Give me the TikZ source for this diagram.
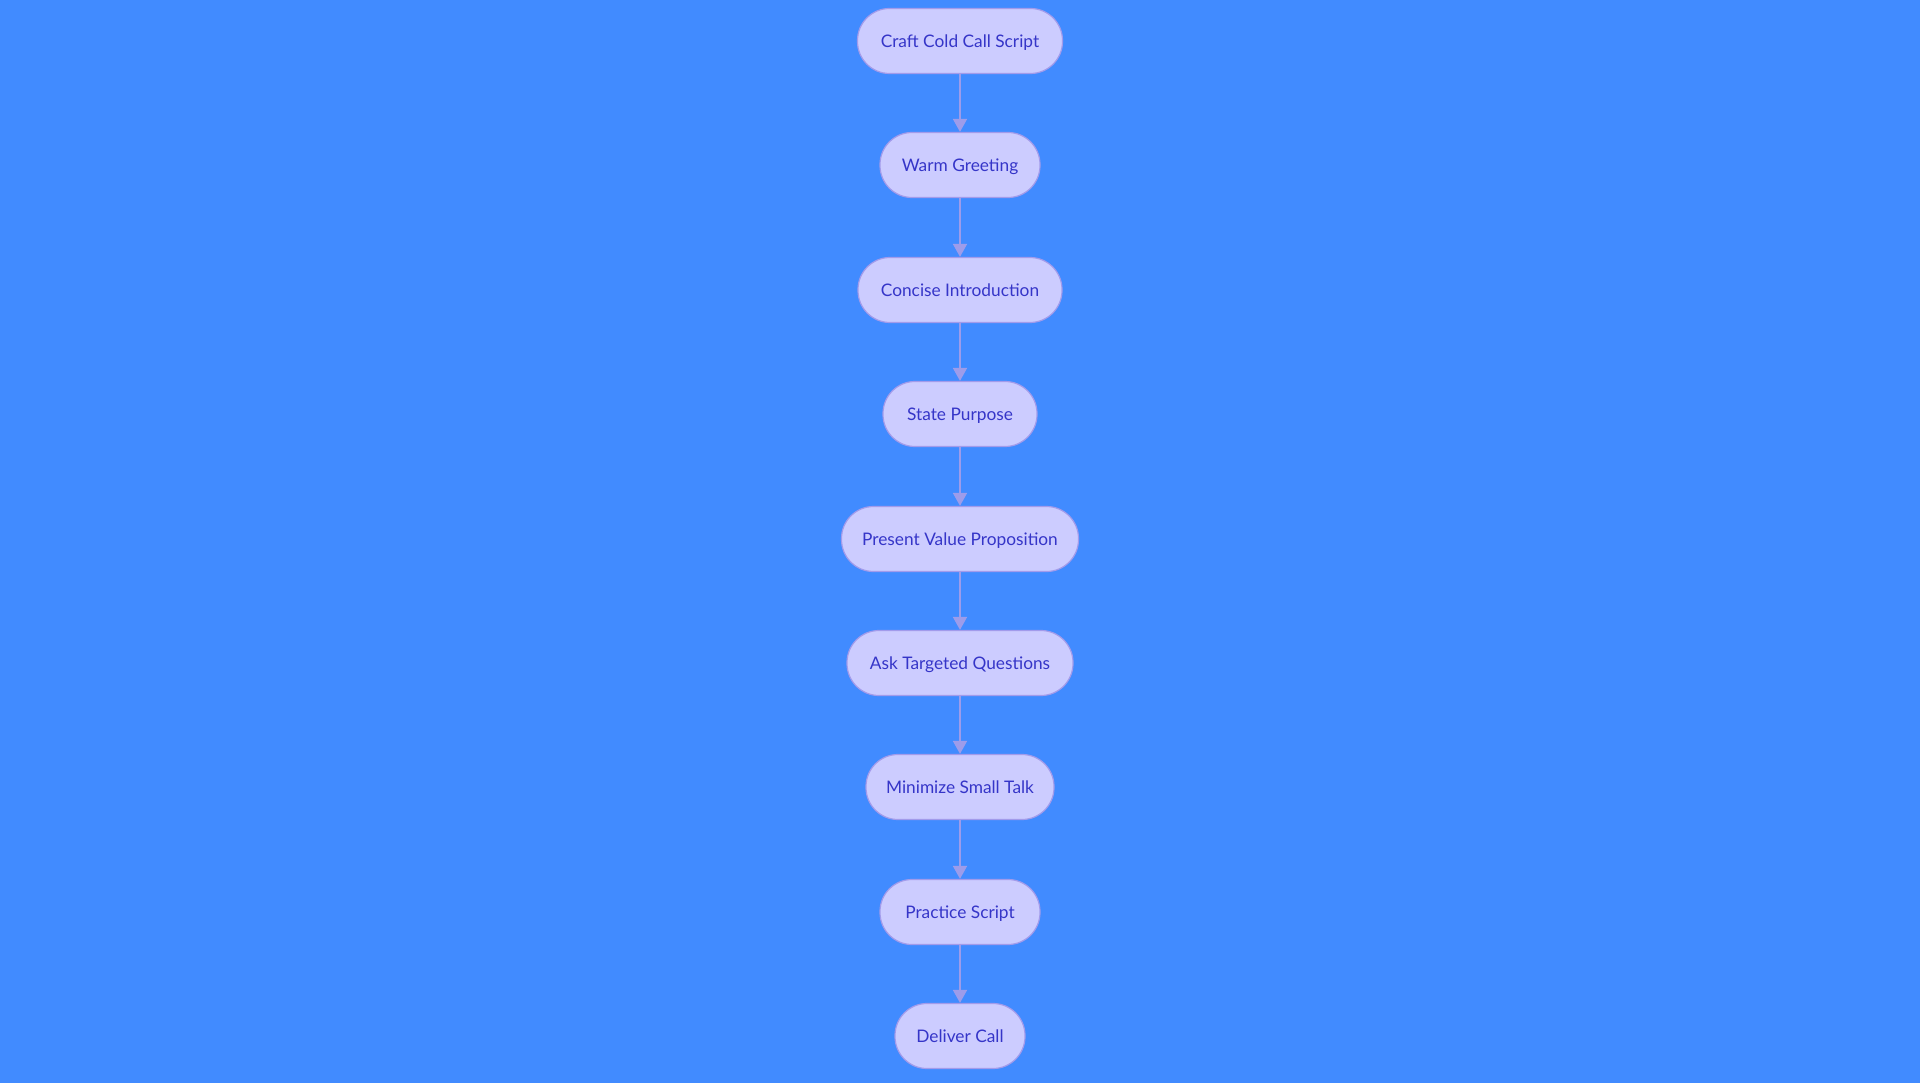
\documentclass[tikz,border=0pt]{standalone}
\usepackage{fontspec}
\setmainfont{Lato}
\usetikzlibrary{arrows.meta}
\definecolor{bg}{HTML}{418BFF}
\definecolor{nodefill}{HTML}{CCCCFF}
\definecolor{nodeline}{HTML}{A29BEB}
\definecolor{txt}{HTML}{3535C8}
\definecolor{edge}{HTML}{9D9CEA}
\tikzset{
  stepbox/.style={draw=nodeline, line width=1.2pt, fill=nodefill, rounded corners=32pt,
    minimum height=65pt, inner xsep=0pt, inner ysep=0pt, text height=12.4pt, text depth=0pt,
    text=txt, font=\fontsize{17.3}{20}\selectfont, anchor=center},
  flow/.style={draw=edge, line width=1.8pt, -{Triangle[length=13pt,width=14pt]}}
}
\begin{document}
\begin{tikzpicture}[x=1pt,y=-1pt]
\fill[bg] (0,0) rectangle (1920,1083);
\useasboundingbox (0,0) rectangle (1920,1083);
\node[stepbox, minimum width=205pt] (n1) at (960,41) {Craft Cold Call Script};
\node[stepbox, minimum width=160pt] (n2) at (960,165) {Warm Greeting};
\node[stepbox, minimum width=204pt] (n3) at (960,290) {Concise Introduction};
\node[stepbox, minimum width=154pt] (n4) at (960,414) {State Purpose};
\node[stepbox, minimum width=237pt] (n5) at (960,539) {Present Value Proposition};
\node[stepbox, minimum width=226pt] (n6) at (960,663) {Ask Targeted Questions};
\node[stepbox, minimum width=188pt] (n7) at (960,787) {Minimize Small Talk};
\node[stepbox, minimum width=160pt] (n8) at (960,912) {Practice Script};
\node[stepbox, minimum width=130pt] (n9) at (960,1036) {Deliver Call};
\foreach \a/\b in {n1/n2,n2/n3,n3/n4,n4/n5,n5/n6,n6/n7,n7/n8,n8/n9}
  \draw[flow] (\a.south) -- (\b.north);
\end{tikzpicture}
\end{document}
